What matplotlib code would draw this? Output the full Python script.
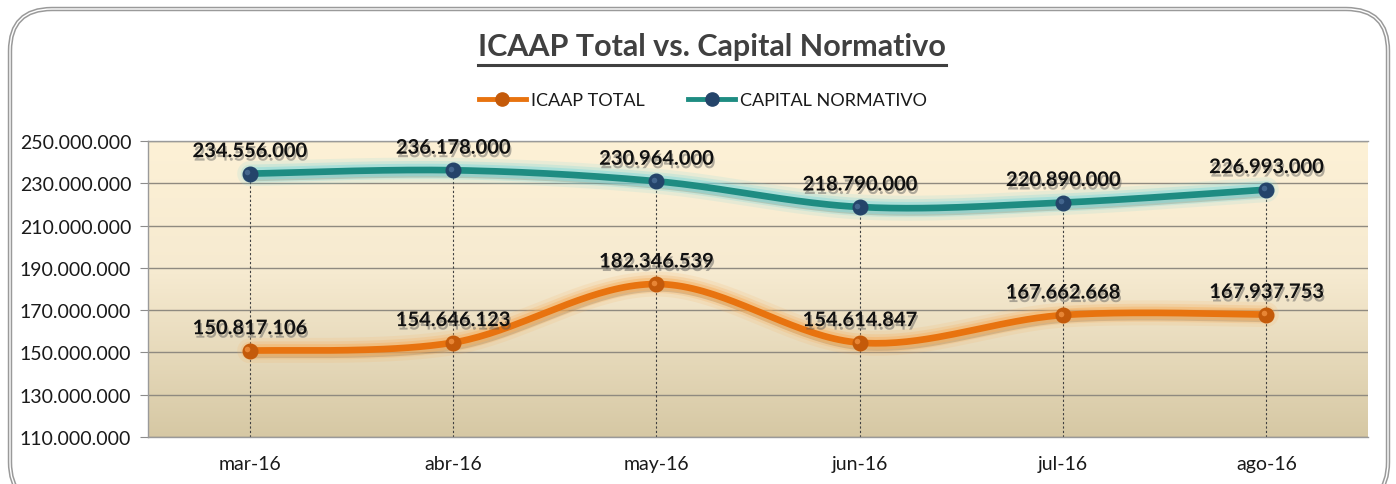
import numpy as np
import matplotlib
matplotlib.use("Agg")
import matplotlib.pyplot as plt
import matplotlib.patheffects as pe
from matplotlib.patches import FancyBboxPatch
from matplotlib.lines import Line2D
from matplotlib.ticker import FuncFormatter

# data
months = ["mar-16", "abr-16", "may-16", "jun-16", "jul-16", "ago-16"]
icaap_total = [150817106, 154646123, 182346539, 154614847, 167662668, 167937753]
capital_normativo = [234556000, 236178000, 230964000, 218790000, 220890000, 226993000]
y_ticks = [110000000, 130000000, 150000000, 170000000, 190000000, 210000000, 230000000, 250000000]

FONT = ["Lato", "DejaVu Sans"]
plt.rcParams["font.family"] = FONT

W, H = 1396, 485
fig = plt.figure(figsize=(W / 100, H / 100), dpi=100)
fig.patch.set_facecolor("white")

# rounded double border of the chart area
for lw, col in [(3.2, "#9a9a9a"), (1.0, "white")]:
    fig.patches.append(FancyBboxPatch((10 / W, -20 / H), 1378 / W, (H - 10 + 20) / H,
                                      boxstyle="round,pad=0,rounding_size=0.03",
                                      transform=fig.transFigure, fill=False,
                                      edgecolor=col, linewidth=lw, zorder=0,
                                      mutation_aspect=W / H))

ax = fig.add_axes([148 / W, 1 - 438 / H, (1368 - 148) / W, (438 - 142) / H])
x = np.arange(len(months))
ax.set_xlim(-0.5, len(months) - 0.5)
ax.set_ylim(y_ticks[0], y_ticks[-1])

# gradient background
top = np.array([253, 241, 214]) / 255
mid = np.array([246, 234, 208]) / 255
bot = np.array([214, 200, 164]) / 255
t = np.linspace(0, 1, 256)[:, None]
grad = np.where(t < 0.45, top + (mid - top) * (t / 0.45),
                mid + (bot - mid) * ((t - 0.45) / 0.55))
ax.imshow(grad[:, None, :], extent=[-0.5, len(months) - 0.5, y_ticks[0], y_ticks[-1]],
          aspect="auto", zorder=0, interpolation="bilinear")

ax.set_yticks(y_ticks)
ax.yaxis.set_major_formatter(FuncFormatter(lambda v, p: f"{v:,.0f}".replace(",", ".")))
ax.set_xticks(x)
ax.set_xticklabels(months)
ax.tick_params(axis="y", length=6, color="#8c8c8c", labelsize=14, labelcolor="#1a1a1a", pad=6)
ax.tick_params(axis="x", length=0, labelsize=14, labelcolor="#1a1a1a", pad=13)
ax.grid(axis="y", color="#8f8a80", linewidth=1.0, zorder=1)
for s in ax.spines.values():
    s.set_color("#9a9a9a")
    s.set_linewidth(1.0)
ax.spines["right"].set_visible(False)

# drop lines from the upper series to the axis
for xi, v in zip(x, capital_normativo):
    ax.plot([xi, xi], [y_ticks[0], v], color="#404040", linewidth=0.8,
            linestyle=(0, (2, 2)), zorder=2)

sx = (len(months)) / 1220.0
sy = (y_ticks[-1] - y_ticks[0]) / 296.0


def smooth(xs, ys, n=40):
    # Excel-like bezier smoothing through the points, done in pixel space
    px = np.asarray(xs, float) / sx
    py = np.asarray(ys, float) / sy
    P = np.column_stack([px, py])
    out = []
    for i in range(len(P) - 1):
        p0 = P[max(i - 1, 0)]
        p1 = P[i]
        p2 = P[i + 1]
        p3 = P[min(i + 2, len(P) - 1)]
        c1 = p1 + (p2 - p0) / 6
        c2 = p2 - (p3 - p1) / 6
        tt = np.linspace(0, 1, n)[:, None]
        seg = ((1 - tt) ** 3) * p1 + 3 * ((1 - tt) ** 2) * tt * c1 + 3 * (1 - tt) * tt ** 2 * c2 + tt ** 3 * p2
        out.append(seg if i == 0 else seg[1:])
    out = np.vstack(out)
    return out[:, 0] * sx, out[:, 1] * sy


series = [
    (icaap_total, "ICAAP TOTAL", "#E8730F", "#F7B060", "#C45A0A", "#F09040"),
    (capital_normativo, "CAPITAL NORMATIVO", "#1E8C82", "#7FD8DC", "#24446A", "#4A6E96"),
]

for vals, name, col, glow, mk, mkhi in series:
    sxs, sys_ = smooth(x, vals)
    ax.plot(sxs, sys_, color=col, linewidth=4.8, solid_capstyle="round", zorder=4,
            path_effects=[pe.SimpleLineShadow(offset=(1.5, -3), shadow_color="#6b5a40", alpha=0.3, linewidth=5),
                          pe.Stroke(linewidth=18, foreground=glow, alpha=0.15),
                          pe.Stroke(linewidth=13, foreground=glow, alpha=0.25),
                          pe.Stroke(linewidth=9, foreground=glow, alpha=0.45),
                          pe.Normal()])
    ax.plot(x, vals, linestyle="none", marker="o", markersize=10.5, markerfacecolor=mk,
            markeredgecolor=mk, zorder=5)
    ax.plot(x - 0.012, np.array(vals) + 700000, linestyle="none", marker="o", markersize=4,
            markerfacecolor=mkhi, markeredgecolor="none", alpha=0.8, zorder=6)
    for xi, v in zip(x, vals):
        ax.annotate(f"{v:,.0f}".replace(",", "."), (xi, v), xytext=(0, 9),
                    textcoords="offset points", ha="center", va="bottom",
                    fontsize=14.5, fontweight="bold", color="#111111", zorder=7,
                    path_effects=[pe.SimplePatchShadow(offset=(1, -2.5), shadow_rgbFace="#555555", alpha=0.45),
                                  pe.Normal()])

# legend
handles = [Line2D([0], [0], color=s[2], linewidth=3.5, marker="o", markersize=9.5,
                  markerfacecolor=s[4], markeredgecolor=s[4]) for s in series]
fig.legend(handles, [s[1] for s in series], loc="center", bbox_to_anchor=(703 / W, 1 - 101 / H),
           ncol=2, frameon=False, fontsize=13, handlelength=2.6, handletextpad=0.3,
           columnspacing=2.4, labelcolor="#1a1a1a")

# underlined title
title = fig.text(712 / W, 1 - 47 / H, "ICAAP Total vs. Capital Normativo", ha="center", va="center",
                 fontsize=22, fontweight="bold", color="#404040")
fig.canvas.draw()
bb = title.get_window_extent(fig.canvas.get_renderer()).transformed(fig.transFigure.inverted())
fig.add_artist(Line2D([bb.x0, bb.x1], [1 - 66 / H, 1 - 66 / H], transform=fig.transFigure,
                      color="#404040", linewidth=2.2))

fig.savefig("out.png", dpi=100)
